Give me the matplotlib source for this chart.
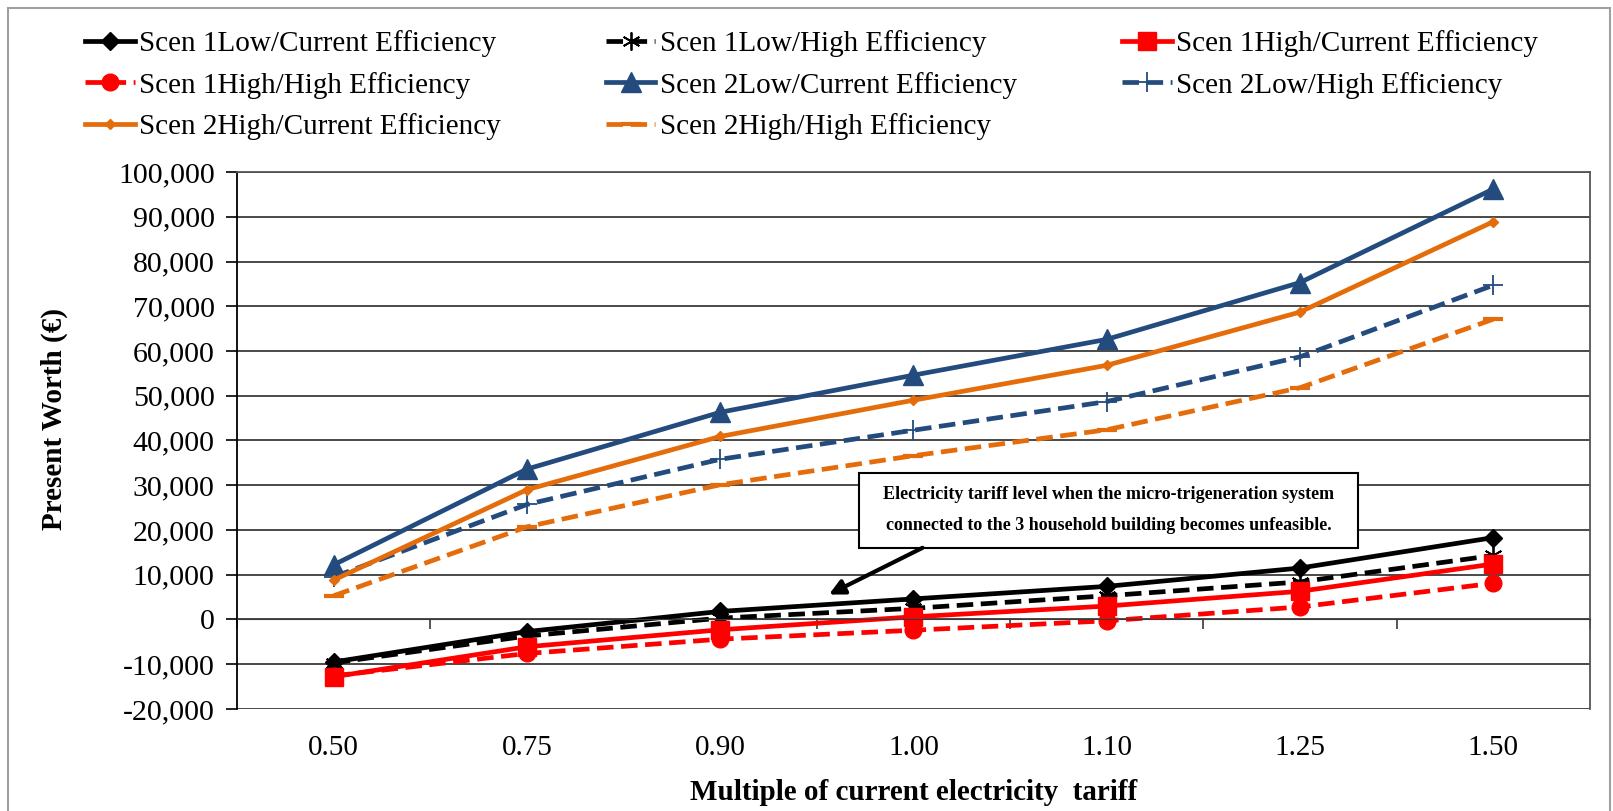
import numpy as np
import matplotlib
matplotlib.use('Agg')
import matplotlib.pyplot as plt
from matplotlib.patches import Rectangle
from matplotlib.ticker import FuncFormatter

plt.rcParams['font.family'] = ['Liberation Serif', 'DejaVu Serif']

# Multiple of current electricity tariff (categories)
tarifas = ['0.50', '0.75', '0.90', '1.00', '1.10', '1.25', '1.50']

# Present worth (EUR) per scenario
s1_low_cur = [-9500, -2700, 1800, 4600, 7400, 11500, 18300]
s1_low_high = [-9700, -3700, 300, 2500, 5300, 8400, 14300]
s1_high_cur = [-12800, -6100, -2300, 600, 3000, 6300, 12400]
s1_high_high = [-12600, -7600, -4400, -2400, -300, 2800, 8100]
s2_low_cur = [12200, 33600, 46300, 54600, 62600, 75300, 96200]
s2_low_high = [9500, 25700, 35800, 42300, 48700, 58700, 74700]
s2_high_cur = [8800, 29000, 40900, 49000, 56800, 68700, 88900]
s2_high_high = [5300, 20700, 30100, 36600, 42400, 51800, 67100]

nomes = ['Scen 1Low/Current Efficiency', 'Scen 1Low/High Efficiency',
         'Scen 1High/Current Efficiency', 'Scen 1High/High Efficiency',
         'Scen 2Low/Current Efficiency', 'Scen 2Low/High Efficiency',
         'Scen 2High/Current Efficiency', 'Scen 2High/High Efficiency']

azul = '#234B7E'
laranja = '#E46C0A'
tracejado = (0, (3.5, 1.6))

estilos = [
    dict(color='black', ls='-', marker='D', ms=9),
    dict(color='black', ls=tracejado, marker=(6, 2, 0), ms=13, mew=1.3),
    dict(color='#FF0000', ls='-', marker='s', ms=13),
    dict(color='#FF0000', ls=tracejado, marker='o', ms=12),
    dict(color=azul, ls='-', marker='^', ms=15),
    dict(color=azul, ls=tracejado, marker='+', ms=15, mew=1.3),
    dict(color=laranja, ls='-', marker='D', ms=5),
    dict(color=laranja, ls=tracejado, marker='_', ms=14, mew=3),
]
series = [s1_low_cur, s1_low_high, s1_high_cur, s1_high_high,
          s2_low_cur, s2_low_high, s2_high_cur, s2_high_high]

fig = plt.figure(figsize=(16.13, 8.11), dpi=100)
ax = fig.add_axes([0.1469, 0.1258, 0.8388, 0.6621])

x = np.arange(len(tarifas))
linhas = []
for y, nome, st in zip(series, nomes, estilos):
    l, = ax.plot(x, y, lw=3.4, label=nome, **st)
    linhas.append(l)

ax.set_xlim(-0.5, len(tarifas) - 0.5)
ax.set_ylim(-20000, 100000)
ax.set_yticks(np.arange(-20000, 100001, 10000))
ax.yaxis.set_major_formatter(FuncFormatter(lambda v, p: f'{v:,.0f}'))
ax.tick_params(axis='y', labelsize=21.5, length=8, width=1.2, pad=8)
ax.grid(axis='y', color='#3a3a3a', lw=1.3)
ax.set_axisbelow(True)

# horizontal axis crosses at zero, labels stay at the bottom
ax.spines['bottom'].set_position(('data', 0))
ax.spines['bottom'].set_color('#3a3a3a')
ax.set_xticks(np.arange(len(tarifas) + 1) - 0.5)
ax.tick_params(axis='x', labelbottom=False, length=7, width=1.2, color='#3a3a3a')
ax.spines['left'].set_linewidth(1.3)
for s in ['top', 'right']:
    ax.spines[s].set_color('#555555')
    ax.spines[s].set_linewidth(1.3)

sec = ax.secondary_xaxis(0.0)
sec.set_xticks(x, tarifas)
sec.tick_params(length=0, labelsize=21, pad=19)
sec.spines['bottom'].set_visible(False)
sec.set_xlabel('Multiple of current electricity  tariff', fontsize=21,
               fontweight='bold', labelpad=13)

ax.set_ylabel('Present Worth (€)', fontsize=21, fontweight='bold')
ax.yaxis.set_label_coords(-0.125, 0.54)

# nota
ax.add_patch(Rectangle((2.72, 16000), 2.58, 16700, facecolor='white',
                       edgecolor='black', lw=1.5, zorder=5))
ax.text(4.01, 28000, 'Electricity tariff level when the micro-trigeneration system',
        ha='center', va='center', fontsize=13, fontweight='bold', zorder=6)
ax.text(4.01, 20900, 'connected to the 3 household building becomes unfeasible.',
        ha='center', va='center', fontsize=13, fontweight='bold', zorder=6)
ax.annotate('', xy=(2.55, 5300), xytext=(3.06, 16300),
            arrowprops=dict(arrowstyle='-|>,head_length=0.9,head_width=0.45',
                            color='black', lw=3), zorder=6)

# legenda em linhas
ordem = [0, 3, 6, 1, 4, 7, 2, 5]
fig.legend([linhas[i] for i in ordem], [nomes[i] for i in ordem],
           loc='upper left', bbox_to_anchor=(0.0527, 0.963), ncol=3,
           frameon=False, fontsize=21, handlelength=1.7, handletextpad=0.15,
           columnspacing=3.6, labelspacing=0.5, borderpad=0, borderaxespad=0)

fig.patches.append(Rectangle((8 / 1613, -0.05), 1602 / 1613, 1 - 8 / 811 + 0.05,
                             transform=fig.transFigure, fill=False,
                             edgecolor='#a0a0a0', lw=1.5))

fig.savefig('out.png', dpi=100)
